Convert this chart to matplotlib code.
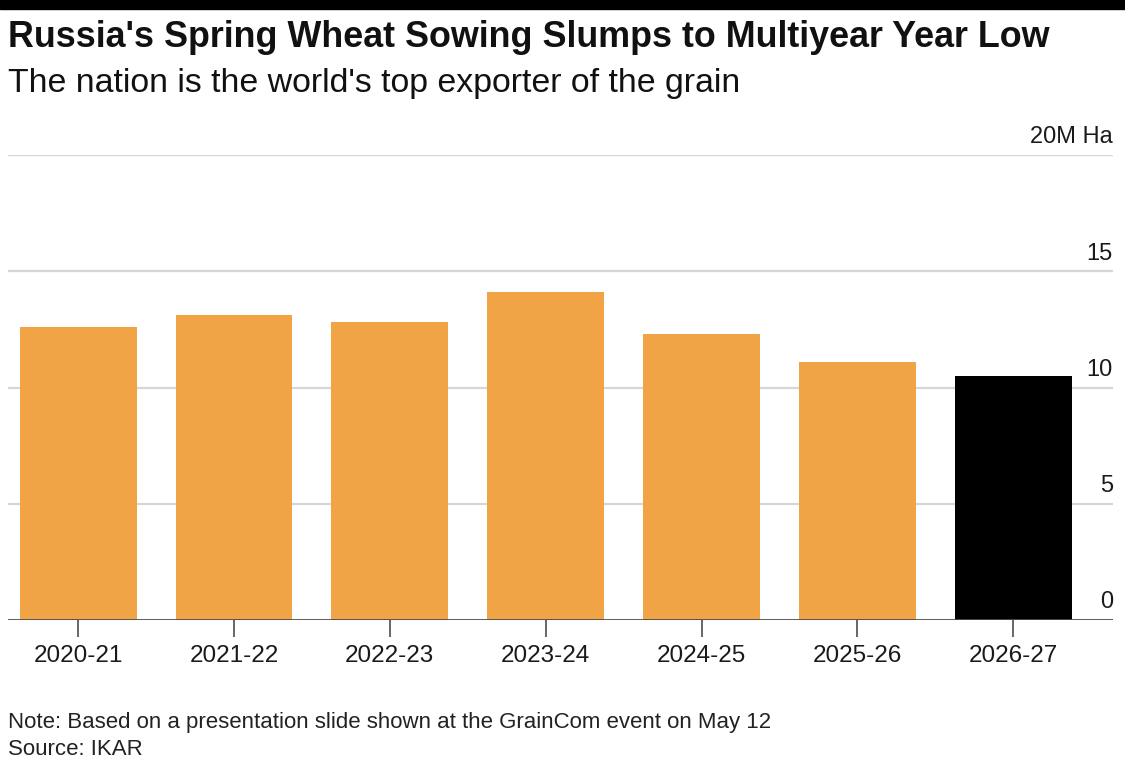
import matplotlib.pyplot as plt
from matplotlib.transforms import blended_transform_factory

plt.rcParams['font.family'] = ['Liberation Sans', 'DejaVu Sans']

# --- datos ---
seasons = ["2020-21", "2021-22", "2022-23", "2023-24", "2024-25", "2025-26", "2026-27"]
area_mha = [12.6, 13.1, 12.8, 14.1, 12.3, 11.1, 10.5]
y_ticks = [0, 5, 10, 15, 20]
y_labels = ["0", "5", "10", "15", "20M Ha"]

ORANGE = "#f0a446"
colors = [ORANGE] * (len(seasons) - 1) + ["#000000"]

W, H = 1125, 762
fig = plt.figure(figsize=(W / 100, H / 100), dpi=100)
ax = fig.add_axes([8 / W, 1 - 620 / H, 1105 / W, 465 / H])

x = range(len(seasons))
ax.bar(x, area_mha, width=0.75, color=colors, zorder=2)

ax.set_ylim(0, 20)
ax.set_xlim(-0.45, 6.64)

# rejilla horizontal
for t in y_ticks[1:]:
    ax.axhline(t, color="#d6d6d6", lw=1.6, zorder=1)
ax.axhline(0, color="#4d4d4d", lw=2.0, zorder=3)

# etiquetas del eje y encima de las líneas, a la derecha
tr = blended_transform_factory(ax.transAxes, ax.transData)
for t, lab in zip(y_ticks, y_labels):
    ax.text(1.0, t + 0.5, lab, transform=tr, ha="right", va="baseline",
            fontsize=17, color="#1a1a1a", zorder=4)

ax.set_yticks([])
ax.set_xticks(list(x))
ax.set_xticklabels(seasons, fontsize=17.5, color="#1a1a1a")
ax.tick_params(axis="x", length=12, width=1.2, color="#4d4d4d", pad=6)
for s in ax.spines.values():
    s.set_visible(False)

# banda negra superior
fig.patches.append(plt.Rectangle((0, 1 - 9 / H), 1, 9 / H, transform=fig.transFigure,
                                 color="black", zorder=5))

fig.text(8 / W, 1 - 47 / H, "Russia's Spring Wheat Sowing Slumps to Multiyear Year Low",
         fontsize=25.8, fontweight="bold", va="baseline", ha="left", color="#111111")
fig.text(8 / W, 1 - 92 / H, "The nation is the world's top exporter of the grain",
         fontsize=24.4, va="baseline", ha="left", color="#111111")
fig.text(8 / W, 1 - 728 / H, "Note: Based on a presentation slide shown at the GrainCom event on May 12",
         fontsize=16, va="baseline", ha="left", color="#222222")
fig.text(8 / W, 1 - 755 / H, "Source: IKAR",
         fontsize=16, va="baseline", ha="left", color="#222222")

fig.savefig("out.png", dpi=100)
